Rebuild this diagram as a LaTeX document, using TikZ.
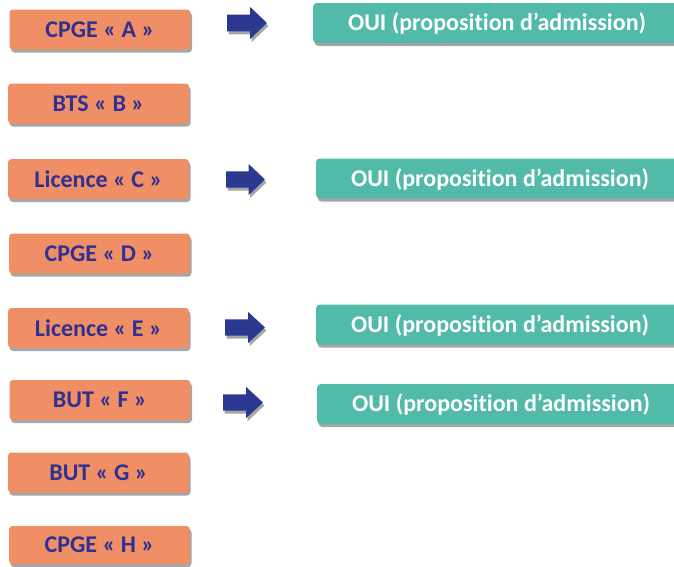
\documentclass[tikz,border=0pt]{standalone}
\usepackage{fontspec}
\setmainfont[Ligatures=NoCommon]{Carlito}
\definecolor{boxorange}{HTML}{F08F66}
\definecolor{boxgreen}{HTML}{52BAA9}
\definecolor{txtblue}{HTML}{2E3192}
\definecolor{arrownavy}{HTML}{2B3990}
\definecolor{shadowgray}{HTML}{A6A6A6}
\tikzset{
  shadowed/.style={preaction={fill=shadowgray, transform canvas={xshift=1.5pt,yshift=-3pt}}},
  orangebox/.style={shadowed, rectangle, rounded corners=3.5pt, fill=boxorange, minimum width=181pt, minimum height=40pt, inner sep=0pt,
    text=txtblue, font=\fontsize{24}{28}\selectfont\bfseries},
  greenbox/.style={shadowed, rectangle, rounded corners=3.5pt, fill=boxgreen, minimum width=370pt, minimum height=40pt, inner sep=0pt, anchor=west},
  greentext/.style={text=white, font=\fontsize{24}{28}\selectfont\bfseries},
  blockarrow/.style={fill=arrownavy, shadowed},
}
\newcommand{\navyarrow}[4]{% x0, ycenter, length, height
  \fill[blockarrow] (#1,#2-0.26*#4) -- (#1+0.58*#3,#2-0.26*#4) -- (#1+0.58*#3,#2-0.5*#4) -- (#1+#3,#2)
    -- (#1+0.58*#3,#2+0.5*#4) -- (#1+0.58*#3,#2+0.26*#4) -- (#1,#2+0.26*#4) -- cycle;}
\begin{document}
\begin{tikzpicture}[x=1pt,y=-1pt]
\useasboundingbox (0,0) rectangle (674,566);
% orange boxes
\node[orangebox] (A) at (100,29.5) {CPGE « A »};
\node[orangebox] (B) at (98.5,103.5) {BTS « B »};
\node[orangebox] (C) at (98.5,179) {Licence « C »};
\node[orangebox] (D) at (99.5,253.5) {CPGE « D »};
\node[orangebox] (E) at (98.5,328) {Licence « E »};
\node[orangebox] (F) at (100,400) {BUT « F »};
\node[orangebox] (G) at (98.5,472.5) {BUT « G »};
\node[orangebox, minimum height=38pt] (H) at (99.5,545) {CPGE « H »};
% green boxes
\node[greenbox] (OA) at (313,23) {};
\node[greentext] (TA) at (497,23.5) {OUI (proposition d’admission)};
\node[greenbox] (OC) at (316,178.5) {};
\node[greentext] (TC) at (500,179) {OUI (proposition d’admission)};
\node[greenbox] (OE) at (316,324.5) {};
\node[greentext] (TE) at (500,325) {OUI (proposition d’admission)};
\node[greenbox] (OF) at (317,404) {};
\node[greentext] (TF) at (501,404.5) {OUI (proposition d’admission)};
% arrows
\navyarrow{227}{23}{40}{32}
\navyarrow{226}{179.5}{39}{31}
\navyarrow{225}{327.5}{40}{31}
\navyarrow{223}{402.5}{40}{31}
\end{tikzpicture}
\end{document}
